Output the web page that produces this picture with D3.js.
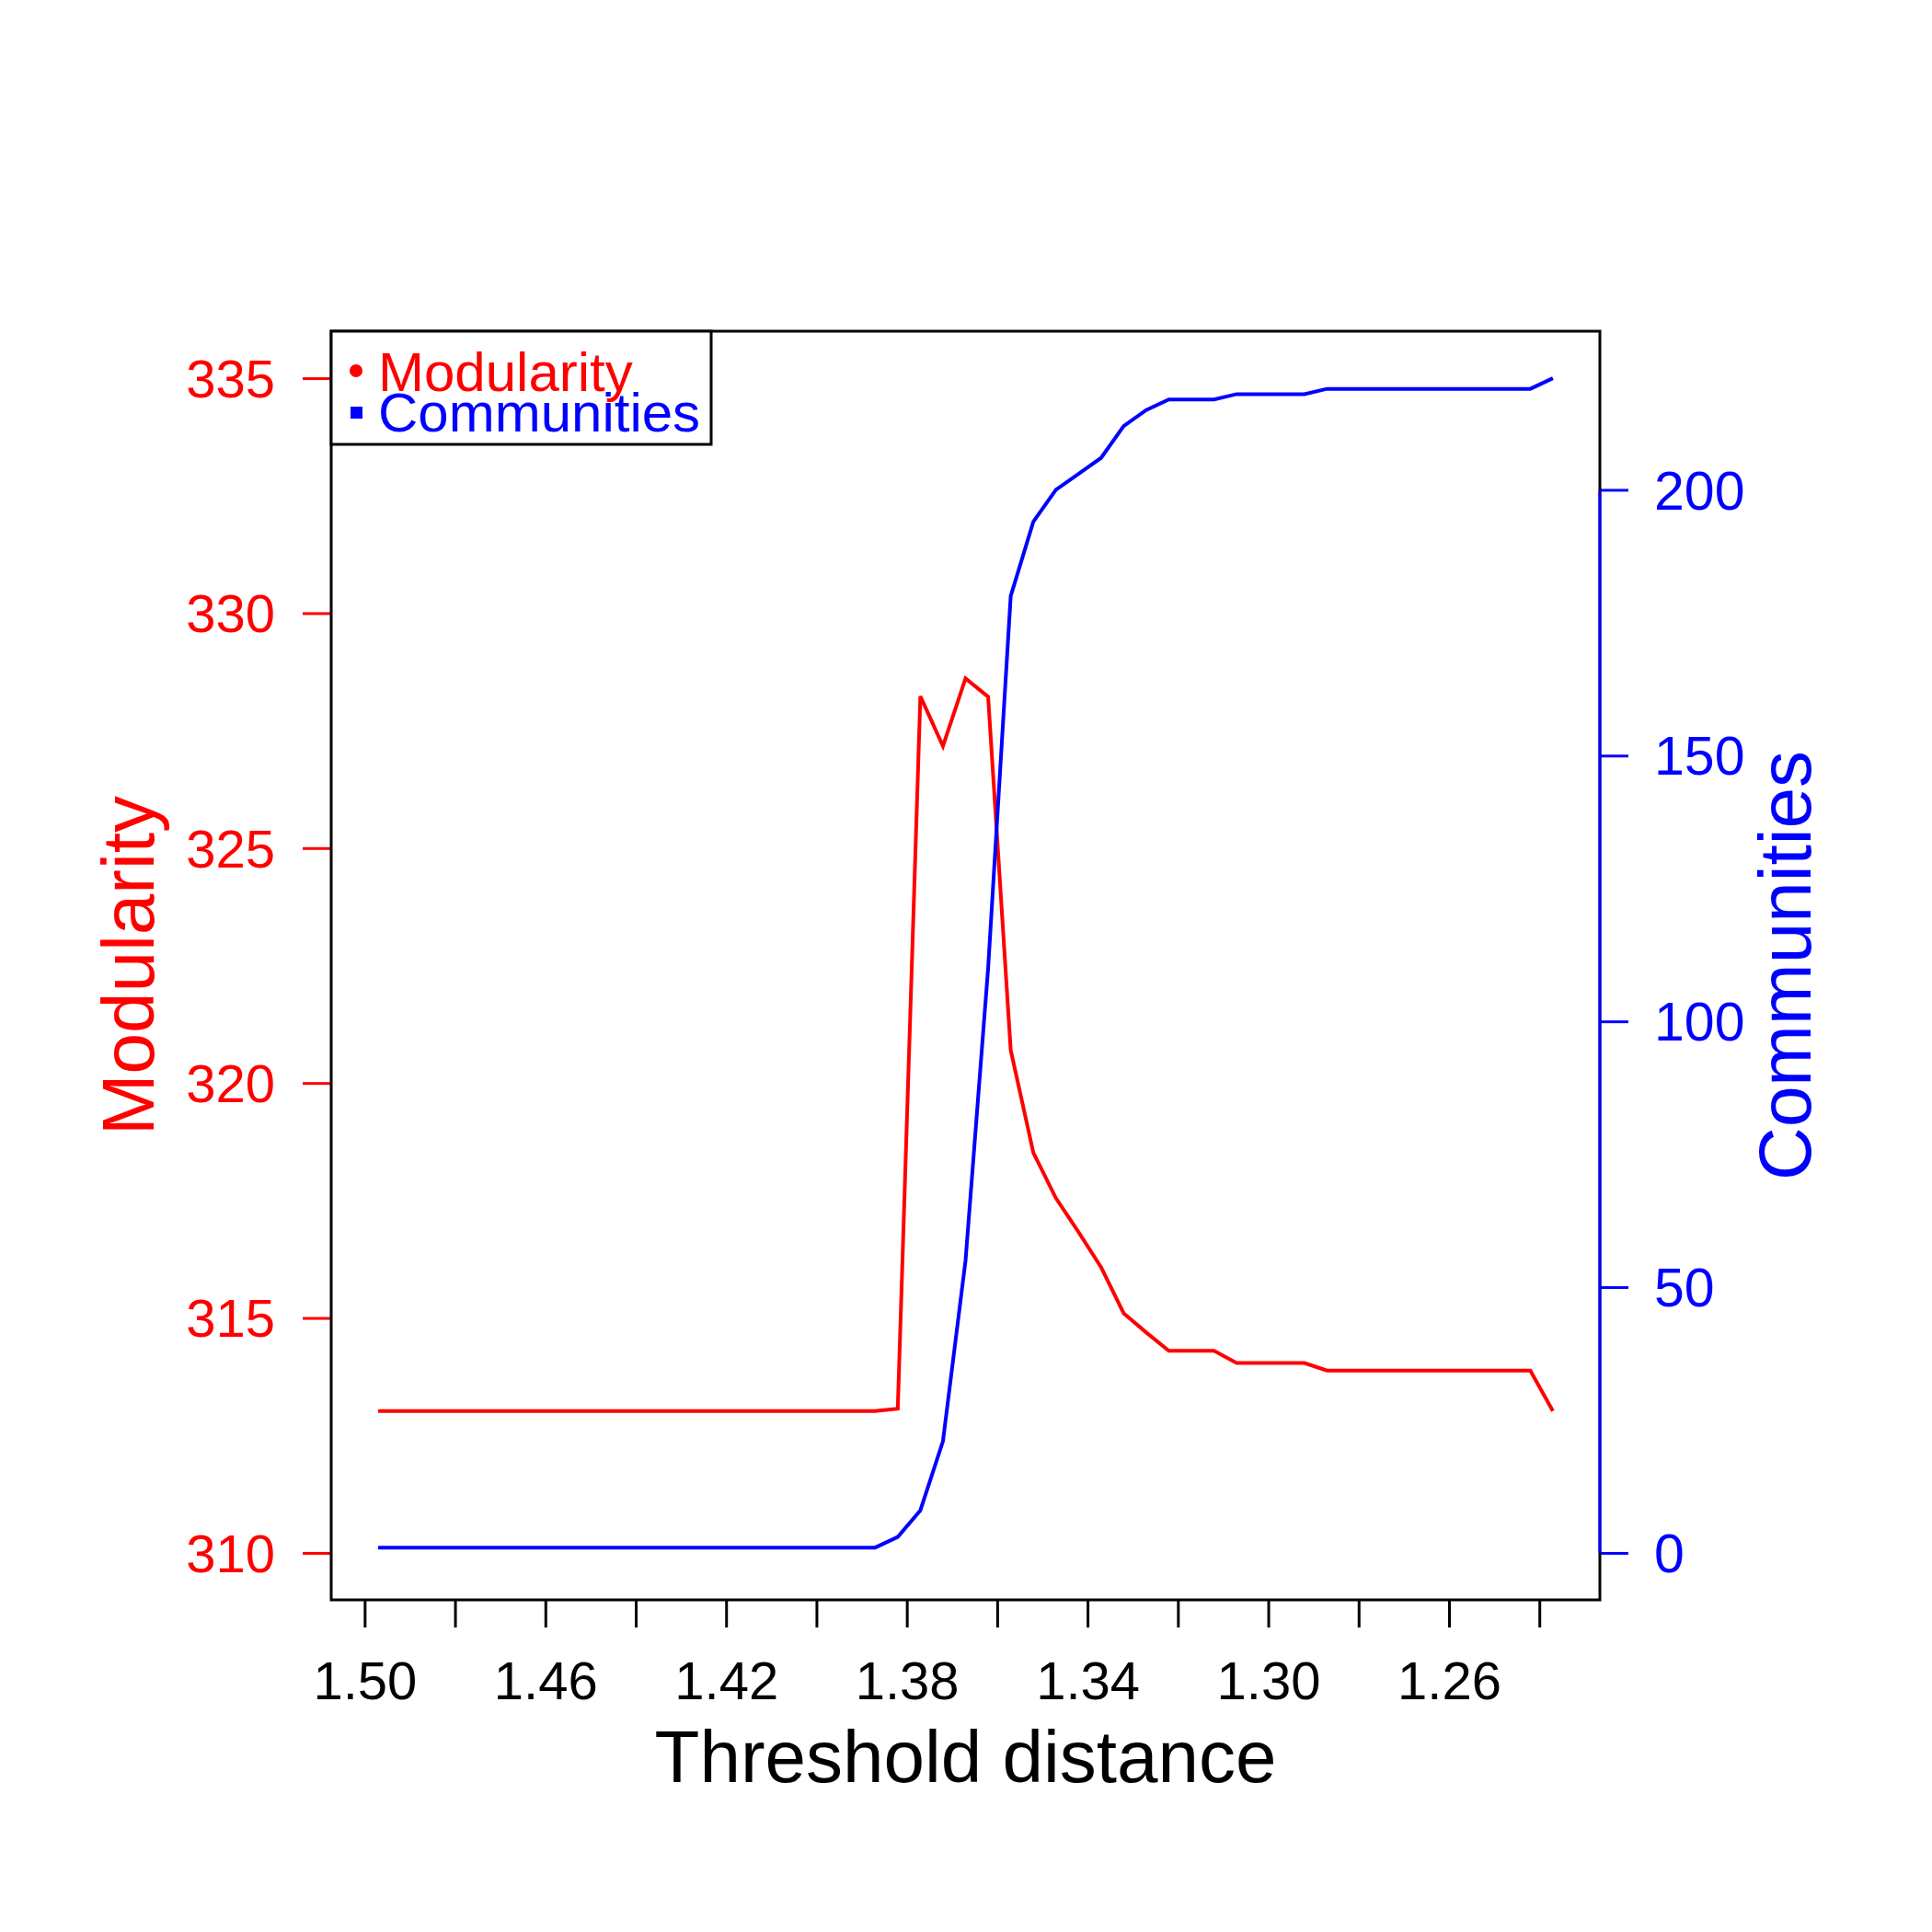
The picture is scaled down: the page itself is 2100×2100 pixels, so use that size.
<!DOCTYPE html>
<html>
<head>
<meta charset="utf-8">
<script src="https://cdn.jsdelivr.net/npm/d3@7"></script>
<style>
  html, body { margin: 0; padding: 0; background: #fff; }
  svg text { font-family: "Liberation Sans", Arial, sans-serif; }
</style>
</head>
<body>
<div id="chart"></div>
<script>
// threshold distances (x)
const thresholds = [
  1.497, 1.492, 1.487, 1.482, 1.477, 1.472, 1.467, 1.462, 1.457, 1.452,
  1.447, 1.442, 1.437, 1.432, 1.427, 1.422, 1.417, 1.412, 1.407, 1.402,
  1.397, 1.392, 1.387, 1.382, 1.377, 1.372, 1.367, 1.362, 1.357, 1.352,
  1.347, 1.342, 1.337, 1.332, 1.327, 1.322, 1.317, 1.312, 1.307, 1.302,
  1.297, 1.292, 1.287, 1.282, 1.277, 1.272, 1.267, 1.262, 1.257, 1.252,
  1.247, 1.242, 1.237
];

const modularity = [
  313.02, 313.02, 313.02, 313.02, 313.02, 313.02, 313.02, 313.02, 313.02, 313.02,
  313.02, 313.02, 313.02, 313.02, 313.02, 313.02, 313.02, 313.02, 313.02, 313.02,
  313.02, 313.02, 313.02, 313.07, 328.23, 327.17, 328.61, 328.22, 320.7, 318.52,
  317.55, 316.83, 316.08, 315.10, 314.69, 314.30, 314.30, 314.30, 314.04, 314.04,
  314.04, 314.04, 313.88, 313.88, 313.88, 313.88, 313.88, 313.88, 313.88, 313.88,
  313.88, 313.88, 313.02
];

const communities = [
  1, 1, 1, 1, 1, 1, 1, 1, 1, 1,
  1, 1, 1, 1, 1, 1, 1, 1, 1, 1,
  1, 1, 1, 3, 8, 21, 55, 110, 180, 194,
  200, 203, 206, 212, 215, 217, 217, 217, 218, 218,
  218, 218, 219, 219, 219, 219, 219, 219, 219, 219,
  219, 219, 221
];

const xTicks = [1.50, 1.48, 1.46, 1.44, 1.42, 1.40, 1.38, 1.36, 1.34, 1.32, 1.30, 1.28, 1.26, 1.24];
const xTickLabels = ["1.50", "1.46", "1.42", "1.38", "1.34", "1.30", "1.26"];
const modTicks = [310, 315, 320, 325, 330, 335];
const comTicks = [0, 50, 100, 150, 200];
const modLimits = [310, 335];
const comLimits = [0, 221];

const width = 2100, height = 2100;
const plot = { left: 360, right: 1739, top: 360, bottom: 1739 };
const red = "#ff0000", blue = "#0000ff";

// R style 4% padding on each side of the limits
function rExpand(lim) {
    const d = (lim[1] - lim[0]) * 0.04;
    return [lim[0] - d, lim[1] + d];
}

const svg = d3.select("#chart")
    .append("svg")
    .attr("width", width)
    .attr("height", height);

const x = d3.scaleLinear()
    .domain(rExpand([d3.max(thresholds), d3.min(thresholds)]))
    .range([plot.left, plot.right]);

const yMod = d3.scaleLinear()
    .domain(rExpand(modLimits))
    .range([plot.bottom, plot.top]);

const yCom = d3.scaleLinear()
    .domain(rExpand(comLimits))
    .range([plot.bottom, plot.top]);

// lines
const modLine = d3.line()
    .x((d, i) => x(thresholds[i]))
    .y(d => yMod(d));

const comLine = d3.line()
    .x((d, i) => x(thresholds[i]))
    .y(d => yCom(d));

svg.append("path")
    .attr("d", modLine(modularity))
    .attr("fill", "none")
    .attr("stroke", red)
    .attr("stroke-width", 4)
    .attr("stroke-linejoin", "miter");

svg.append("path")
    .attr("d", comLine(communities))
    .attr("fill", "none")
    .attr("stroke", blue)
    .attr("stroke-width", 4)
    .attr("stroke-linejoin", "miter");

// left axis (modularity)
const leftAxis = svg.append("g")
    .attr("transform", `translate(${plot.left},0)`)
    .call(d3.axisLeft(yMod).tickValues(modTicks).tickSize(31).tickSizeOuter(0).tickPadding(30));
leftAxis.select(".domain").remove();
leftAxis.selectAll(".tick line").attr("stroke", red).attr("stroke-width", 3);
leftAxis.selectAll(".tick text")
    .attr("fill", red)
    .attr("font-size", 58)
    .attr("dy", "0.35em");

// right axis (communities)
const rightAxis = svg.append("g")
    .attr("transform", `translate(${plot.right},0)`)
    .call(d3.axisRight(yCom).tickValues(comTicks).tickSize(31).tickSizeOuter(0).tickPadding(28));
rightAxis.select(".domain").remove();
rightAxis.selectAll(".tick line").attr("stroke", blue).attr("stroke-width", 3);
rightAxis.selectAll(".tick text")
    .attr("fill", blue)
    .attr("font-size", 59)
    .attr("dy", "0.35em");

// bottom axis, labels only on every other tick
const fmt = d3.format(".2f");
const bottomAxis = svg.append("g")
    .attr("transform", `translate(0,${plot.bottom})`)
    .call(d3.axisBottom(x).tickValues(xTicks).tickSize(30).tickSizeOuter(0).tickPadding(0)
        .tickFormat(d => xTickLabels.includes(fmt(d)) ? fmt(d) : ""));
bottomAxis.select(".domain").remove();
bottomAxis.selectAll(".tick line").attr("stroke", "#000").attr("stroke-width", 3);
bottomAxis.selectAll(".tick text")
    .attr("fill", "#000")
    .attr("font-size", 58)
    .attr("y", 108)
    .attr("dy", 0);

// plot frame
svg.append("rect")
    .attr("x", plot.left)
    .attr("y", plot.top)
    .attr("width", plot.right - plot.left)
    .attr("height", plot.bottom - plot.top)
    .attr("fill", "none")
    .attr("stroke", "#000")
    .attr("stroke-width", 3);

// blue axis line over the right frame, from first to last tick
svg.append("line")
    .attr("x1", plot.right).attr("x2", plot.right)
    .attr("y1", yCom(d3.min(comTicks))).attr("y2", yCom(d3.max(comTicks)))
    .attr("stroke", blue)
    .attr("stroke-width", 3);

// axis titles
svg.append("text")
    .attr("x", (plot.left + plot.right) / 2)
    .attr("y", 1937)
    .attr("text-anchor", "middle")
    .attr("font-size", 80)
    .attr("fill", "#000")
    .text("Threshold distance");

svg.append("text")
    .attr("transform", `translate(167,${(plot.top + plot.bottom) / 2}) rotate(-90)`)
    .attr("text-anchor", "middle")
    .attr("font-size", 80)
    .attr("fill", red)
    .text("Modularity");

svg.append("text")
    .attr("transform", `translate(1968,${(plot.top + plot.bottom) / 2}) rotate(-90)`)
    .attr("text-anchor", "middle")
    .attr("font-size", 80)
    .attr("fill", blue)
    .text("Communities");

// legend
const legend = svg.append("g");
legend.append("rect")
    .attr("x", plot.left)
    .attr("y", plot.top)
    .attr("width", 413)
    .attr("height", 123)
    .attr("fill", "#fff")
    .attr("stroke", "#000")
    .attr("stroke-width", 3);

legend.append("circle")
    .attr("cx", 387).attr("cy", 403).attr("r", 7)
    .attr("fill", red);
legend.append("rect")
    .attr("x", 381).attr("y", 442).attr("width", 13).attr("height", 13)
    .attr("fill", blue);

legend.append("text")
    .attr("x", 411).attr("y", 425)
    .attr("font-size", 60)
    .attr("fill", red)
    .text("Modularity");
legend.append("text")
    .attr("x", 411).attr("y", 469)
    .attr("font-size", 60)
    .attr("fill", blue)
    .text("Communities");
</script>
</body>
</html>
